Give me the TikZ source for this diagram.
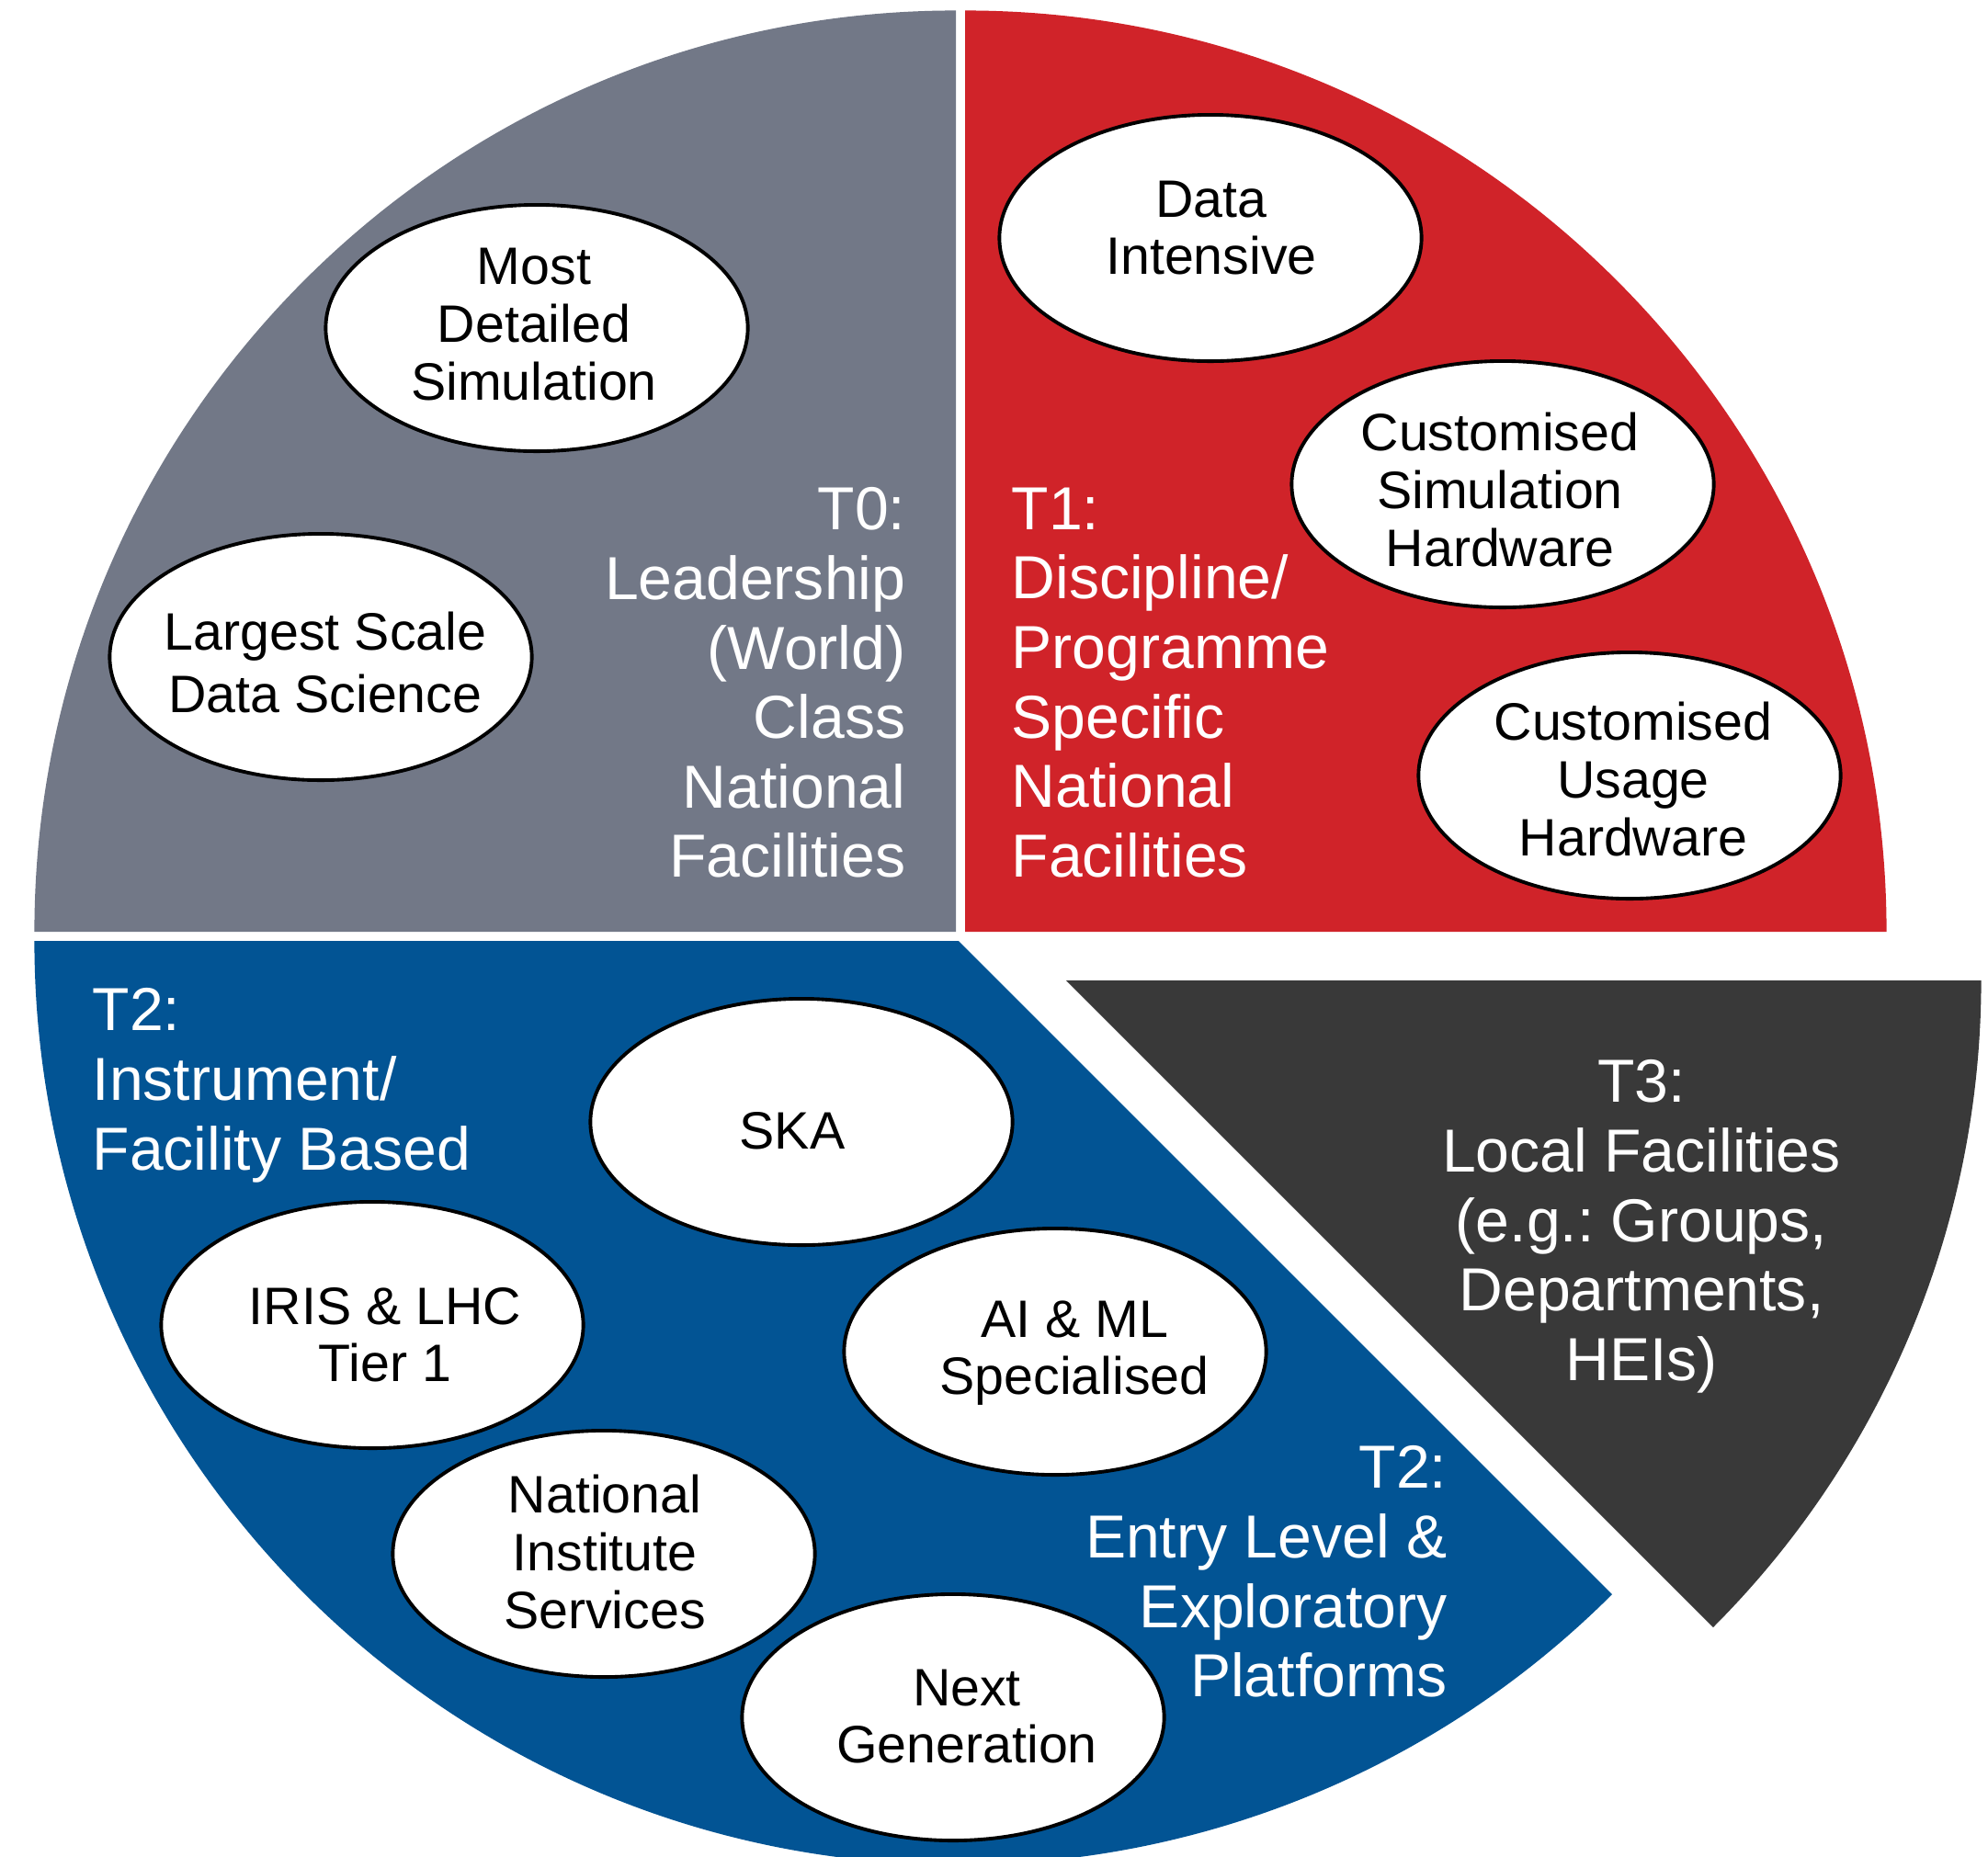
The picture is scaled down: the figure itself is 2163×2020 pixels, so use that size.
\documentclass[tikz,border=0pt]{standalone}
\usepackage{fontspec}
\setmainfont{Liberation Sans}
\frenchspacing
\usetikzlibrary{shapes.geometric}
\definecolor{tiergray}{RGB}{114,120,135}
\definecolor{tierred}{RGB}{208,35,41}
\definecolor{tierblue}{RGB}{2,84,148}
\definecolor{tierdark}{RGB}{57,57,57}
% centred lines of bubble text
\newcommand\bubblelines[1]{\begin{tabular}{@{}c@{}}#1\end{tabular}}
\begin{document}
\begin{tikzpicture}[x=0.01cm,y=0.01cm,
  bubble/.style={ellipse, draw=black, line width=1.1pt, fill=white,
    minimum width=4.59cm, minimum height=2.68cm, inner sep=0pt},
  bubbletext/.style={inner sep=0pt, text=black,
    font=\fontsize{16.3}{17.8}\selectfont},
  tierlabel/.style={text=white, inner sep=0pt,
    font=\fontsize{18.8}{21.5}\selectfont}]
\useasboundingbox (0,0) rectangle (2163,-2020);
\clip (0,0) rectangle (2163,-2020);

% pie sectors
\fill[tiergray] (1040,-1014) -- ++(90:10.02cm)
  arc[start angle=90, end angle=180, radius=10.02cm] -- cycle;
\fill[tierred] (1050,-1014) -- ++(0:10.02cm)
  arc[start angle=0, end angle=90, radius=10.02cm] -- cycle;
\fill[tierblue] (1043,-1024) -- ++(180:10.05cm)
  arc[start angle=180, end angle=315, radius=10.05cm] -- cycle;
\fill[tierdark] (1160,-1067) -- ++(-45:9.95cm)
  arc[start angle=-45, end angle=0, radius=9.95cm] -- cycle;

% tier labels
\node[tierlabel, align=right, anchor=north east] (t0) at (986,-530)
  {T0:\\Leadership\\(World)\\Class\\National\\Facilities};
\node[tierlabel, align=left, anchor=north west] (t1) at (1100,-530)
  {T1:\\Discipline/\\Programme\\Specific\\National\\Facilities};
\node[tierlabel, align=left, anchor=north west] (t2a) at (100,-1075)
  {T2:\\Instrument/\\Facility Based};
\node[tierlabel, align=right, anchor=north east] (t2b) at (1575,-1573)
  {T2:\\Entry Level \&\\Exploratory\\Platforms};
\node[tierlabel, align=center, anchor=north] (t3) at (1786,-1153)
  {T3:\\Local Facilities\\(e.g.: Groups,\\Departments,\\HEIs)};

% facility bubbles
\node[bubble] (mds) at (584,-357) {};
\node[bubble] (lsds) at (349,-715) {};
\node[bubble] (di) at (1317,-259) {};
\node[bubble] (csh) at (1635,-527) {};
\node[bubble] (cuh) at (1773,-844) {};
\node[bubble] (ska) at (872,-1221) {};
\node[bubble] (iris) at (405,-1442) {};
\node[bubble] (aiml) at (1148,-1471) {};
\node[bubble] (nis) at (657,-1691) {};
\node[bubble] (ng) at (1037,-1869) {};

% bubble texts
\node[bubbletext] (mdst) at ([shift={(-3,-3)}]mds.center) {\bubblelines{Most\\Detailed\\Simulation}};
\node[bubbletext] (lsdst) at ([shift={(5,-14)}]lsds.center) {\bubblelines{Largest Scale\\[1.3pt]Data Science}};
\node[bubbletext] (dit) at ([shift={(1,4)}]di.center) {\bubblelines{Data\\Intensive}};
\node[bubbletext] (csht) at ([shift={(-3,-14)}]csh.center) {\bubblelines{Customised\\Simulation\\Hardware}};
\node[bubbletext] (cuht) at ([shift={(4,-12)}]cuh.center) {\bubblelines{Customised\\Usage\\Hardware}};
\node[bubbletext] (skat) at ([shift={(-10,-17)}]ska.center) {\bubblelines{SKA}};
\node[bubbletext] (irist) at ([shift={(14,-18)}]iris.center) {\bubblelines{IRIS \& LHC\\Tier 1}};
\node[bubbletext] (aimlt) at ([shift={(21,-3)}]aiml.center) {\bubblelines{AI \& ML\\Specialised}};
\node[bubbletext] (nist) at ([shift={(1,-6)}]nis.center) {\bubblelines{National\\Institute\\Services}};
\node[bubbletext] (ngt) at ([shift={(15,-6)}]ng.center) {\bubblelines{Next\\Generation}};
\end{tikzpicture}
\end{document}
